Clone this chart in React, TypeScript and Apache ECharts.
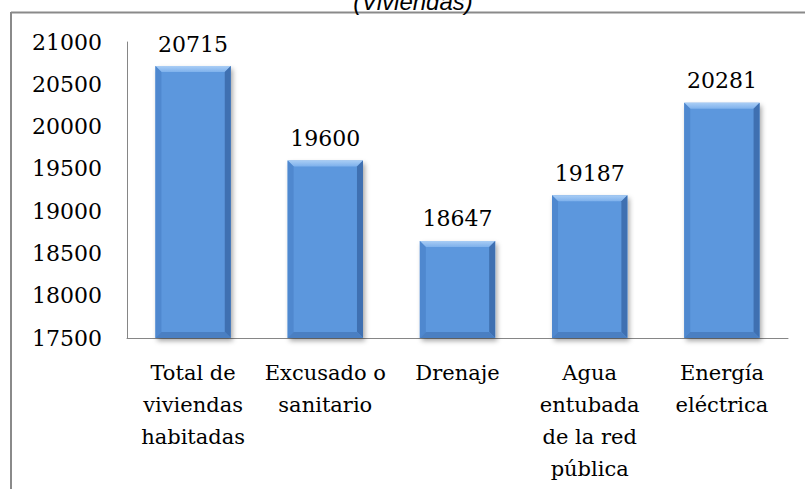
import React, { useEffect, useRef } from "react";
import * as echarts from "echarts";

const categories = [
  "Total de\nviviendas\nhabitadas",
  "Excusado o\nsanitario",
  "Drenaje",
  "Agua\nentubada\nde la red\npública",
  "Energía\neléctrica",
];
const values = [20715, 19600, 18647, 19187, 20281];
const yMin = 17500;
const yMax = 21000;
const yStep = 500;
const titleText = "(Viviendas)";

const SERIF = "'DejaVu Serif', 'Liberation Serif', serif";

export default function App() {
  const ref = useRef<HTMLDivElement>(null);
  useEffect(() => {
    if (!ref.current) return;
    const chart = echarts.init(ref.current, undefined, { renderer: "svg" });
    const barRatio = 0.57;
    chart.setOption({
      animation: false,
      backgroundColor: "#ffffff",
      graphic: [
        {
          type: "line",
          shape: { x1: 11, y1: 12.5, x2: 805, y2: 12.5 },
          style: { stroke: "#8a8a8a", lineWidth: 2 },
        },
        {
          type: "line",
          shape: { x1: 11, y1: 12, x2: 11, y2: 489 },
          style: { stroke: "#8a8a8a", lineWidth: 2 },
        },
        {
          type: "text",
          x: 413,
          y: 13,
          style: {
            text: titleText,
            font: "italic 24px 'Liberation Sans', Arial, sans-serif",
            fill: "#000",
            textAlign: "center",
            textVerticalAlign: "bottom",
          },
        },
      ],
      grid: { left: 127, right: 17, top: 42, bottom: 151, containLabel: false },
      xAxis: {
        type: "category",
        data: categories,
        axisLine: { lineStyle: { color: "#868686", width: 1 } },
        axisTick: { show: false },
        axisLabel: {
          interval: 0,
          fontFamily: SERIF,
          fontSize: 21,
          color: "#000",
          lineHeight: 32,
          margin: 19,
        },
      },
      yAxis: {
        type: "value",
        min: yMin,
        max: yMax,
        interval: yStep,
        splitLine: { show: false },
        axisLine: { show: true, lineStyle: { color: "#868686", width: 1 } },
        axisTick: { show: false },
        axisLabel: {
          fontFamily: SERIF,
          fontSize: 22,
          color: "#000",
          margin: 25,
          formatter: (v: number) => String(v),
        },
      },
      series: [
        {
          type: "bar",
          data: values,
          barWidth: barRatio * 100 + "%",
          itemStyle: {
            color: "#5b97dd",
            shadowColor: "rgba(0,0,0,0.35)",
            shadowBlur: 5,
            shadowOffsetX: 2,
            shadowOffsetY: 3,
          },
          label: {
            show: true,
            position: "top",
            distance: 11,
            fontFamily: SERIF,
            fontSize: 22,
            color: "#000",
          },
          z: 2,
        },
        {
          type: "custom",
          data: values.map((v, i) => [i, v]),
          z: 3,
          silent: true,
          renderItem: (params: any, api: any) => {
            const idx = api.value(0);
            const val = api.value(1);
            const top = api.coord([idx, val]);
            const bot = api.coord([idx, yMin]);
            const band = api.size([1, 0])[0];
            const w = band * barRatio;
            const x = top[0] - w / 2;
            const y = top[1];
            const h = bot[1] - top[1];
            const b = 6;
            return {
              type: "group",
              children: [
                {
                  type: "polygon",
                  shape: { points: [[x, y], [x + w, y], [x + w - b, y + b], [x + b, y + b]] },
                  style: {
                    fill: new echarts.graphic.LinearGradient(0, 0, 0, 1, [
                      { offset: 0, color: "#a9cdf5" },
                      { offset: 1, color: "#7eb1ec" },
                    ]),
                  },
                },
                {
                  type: "polygon",
                  shape: { points: [[x, y], [x + b, y + b], [x + b, y + h - b], [x, y + h]] },
                  style: { fill: "#4f88cf" },
                },
                {
                  type: "polygon",
                  shape: { points: [[x + w, y], [x + w - b, y + b], [x + w - b, y + h - b], [x + w, y + h]] },
                  style: { fill: "#3f70b1" },
                },
                {
                  type: "polygon",
                  shape: { points: [[x, y + h], [x + b, y + h - b], [x + w - b, y + h - b], [x + w, y + h]] },
                  style: { fill: "#4a7fc2" },
                },
              ],
            };
          },
        },
      ],
    });
    return () => chart.dispose();
  }, []);
  return <div ref={ref} style={{ width: 805, height: 489, position: "absolute", left: 0, top: 0 }} />;
}
